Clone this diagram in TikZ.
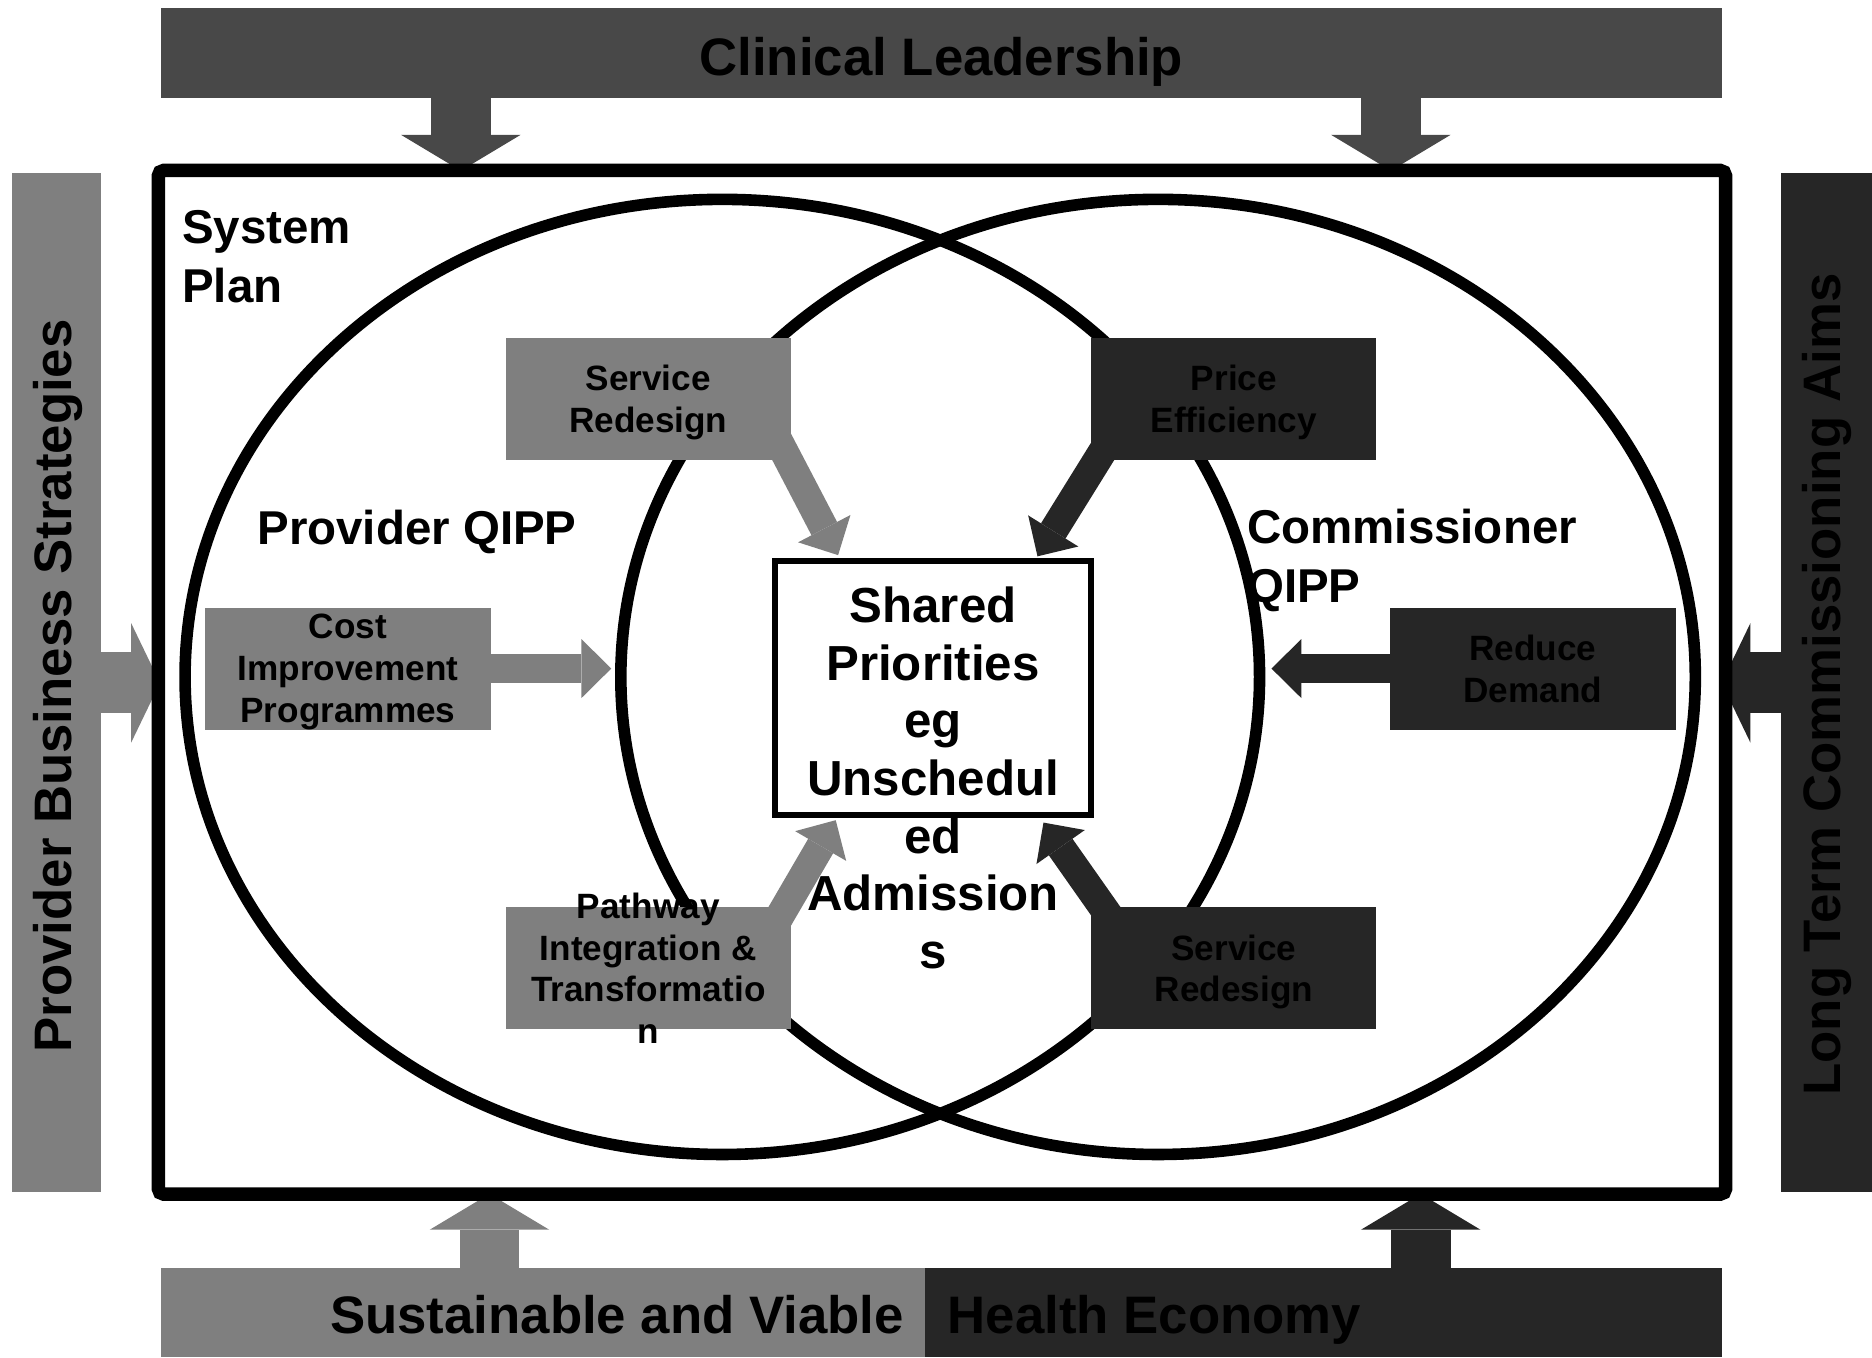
\documentclass[tikz,border=0pt]{standalone}
\usepackage{fontspec}
\setmainfont{Liberation Sans}
\usetikzlibrary{arrows.meta, positioning}

\definecolor{midgrey}{HTML}{7F7F7F}
\definecolor{darkgrey}{HTML}{262626}
\definecolor{bargrey}{HTML}{484848}

\begin{document}
\begin{tikzpicture}[
    x=0.011939cm, y=-0.011939cm,
    bar/.style={fill=#1, inner sep=0pt, outer sep=0pt},
    boxtext/.style={inner sep=0pt, align=center, font=\fontsize{10}{11.9}\selectfont\bfseries, text depth=-3pt},
    boxstyle/.style={fill=#1, minimum width=2.85cm, minimum height=1.22cm, boxtext},
    bigtext/.style={inner sep=0pt, font=\fontsize{15}{17}\selectfont\bfseries},
    midtext/.style={inner sep=0pt, align=left, font=\fontsize{13.5}{16.6}\selectfont\bfseries},
    bararrow/.style={color=#1, line width=17pt, -{Triangle[length=10.2pt, width=34pt, line width=0pt]}},
    sidearrow/.style={color=#1, line width=17.3pt, -{Triangle[length=8.2pt, width=34pt, line width=0pt]}},
    innerarrow/.style={color=#1, line width=8.2pt, -{Triangle[length=8.5pt, width=16.8pt, line width=0pt]}}
]
\useasboundingbox (0,0) rectangle (1568,1137.4);

% Outer bars
\node[bar=bargrey, minimum width=15.604cm, minimum height=0.895cm, bigtext, text height=12.6pt, text depth=0pt] (clinical) at (788.5,44.5) {Clinical Leadership};
\node[bar=midgrey, minimum width=7.641cm, minimum height=0.895cm] (econL) at (455,1099.5) {};
\node[bar=darkgrey, minimum width=7.963cm, minimum height=0.895cm] (econR) at (1108.5,1099.5) {};
\node[bigtext, anchor=base east] (sustain) at ([xshift=-2.1mm, yshift=-2.1mm]econL.east) {Sustainable and Viable};
\node[bigtext, anchor=base west] (health) at ([xshift=2.2mm, yshift=-2.1mm]econR.west) {Health Economy};
\node[bar=midgrey, minimum width=0.895cm, minimum height=10.184cm] (provbar) at (47.5,571.5) {};
\node[bigtext, rotate=90] (provtext) at ([xshift=0.5pt, yshift=-1pt]provbar) {Provider Business Strategies};
\node[bar=darkgrey, minimum width=0.907cm, minimum height=10.184cm] (ltbar) at (1530,571.5) {};
\node[bigtext, rotate=90] (lttext) at ([yshift=-0.6pt]ltbar) {Long Term Commissioning Aims};

% Arrows into the system plan
\coordinate (topL) at (386,143);
\coordinate (topR) at (1165,143);
\coordinate (botL) at (410,1000);
\coordinate (botR) at (1190,1000);
\coordinate (sideL) at (134,572);
\coordinate (sideR) at (1442,572);
\draw[bararrow=bargrey] (clinical.south -| topL) -- (topL);
\draw[bararrow=bargrey] (clinical.south -| topR) -- (topR);
\draw[bararrow=midgrey] (econL.north -| botL) -- (botL);
\draw[bararrow=darkgrey] (econR.north -| botR) -- (botR);
\draw[sidearrow=midgrey] (provbar.east |- sideL) -- (sideL);
\draw[sidearrow=darkgrey] (ltbar.west |- sideR) -- (sideR);

% System plan frame and circles
\node[draw, line width=3.8pt, rounded corners=1.5pt, minimum width=15.664cm, minimum height=10.232cm] (frame) at (789,571.5) {};
\draw[line width=3.3pt] (605,567) ellipse [x radius=450, y radius=400];
\draw[line width=3.3pt] (970,567) ellipse [x radius=450, y radius=400];

\node[midtext, anchor=north west] (sysplan) at (152,176) {System\\Plan};
\node[midtext, anchor=base west] (provqipp) at (215,456) {Provider QIPP};
\node[midtext, anchor=north west] (commqipp) at (1044,426) {Commissioner\\QIPP};

% Arrows towards the shared priorities
\coordinate (srLs) at (642,350);
\coordinate (srLt) at (702,465);
\coordinate (prs) at (941,350);
\coordinate (prt) at (869,466);
\coordinate (pws) at (640,790);
\coordinate (pwt) at (700,687);
\coordinate (srRs) at (945,790);
\coordinate (srRt) at (874,689);
\coordinate (costt) at (512,560);
\coordinate (redt) at (1065,560);
\draw[innerarrow=midgrey] (srLs) -- (srLt);
\draw[innerarrow=darkgrey] (prs) -- (prt);
\draw[innerarrow=midgrey] (pws) -- (pwt);
\draw[innerarrow=darkgrey] (srRs) -- (srRt);
\draw[innerarrow=midgrey] (291.5,560) -- (costt);
\draw[innerarrow=darkgrey] (1284,560) -- (redt);

% Boxes
\node[boxstyle=midgrey] (srL) at (543,334) {Service\\Redesign};
\node[boxstyle=darkgrey] (price) at (1033.5,334) {Price\\Efficiency};
\node[boxstyle=midgrey] (cost) at (291.5,560) {Cost\\Improvement\\Programmes};
\node[boxstyle=darkgrey] (reduce) at (1284,560) {Reduce\\Demand};
\node[boxstyle=midgrey] (pathway) at (543,811) {};
\node[boxstyle=darkgrey] (srR) at (1033.5,811) {Service\\Redesign};
\node[boxtext] (pathtext) at (pathway) {Pathway\\Integration \&\\Transformatio\\n};

% Shared priorities
\node[draw, line width=1.7pt, fill=white, minimum width=3.164cm, minimum height=2.543cm] (shared) at (781.5,576.5) {};
\node[anchor=north, align=center, inner sep=0pt, font=\fontsize{14}{16.4}\selectfont\bfseries] (sharedtext) at (781.5,491) {Shared\\Priorities\\eg\\Unschedul\\ed\\Admission\\s};

\end{tikzpicture}
\end{document}
